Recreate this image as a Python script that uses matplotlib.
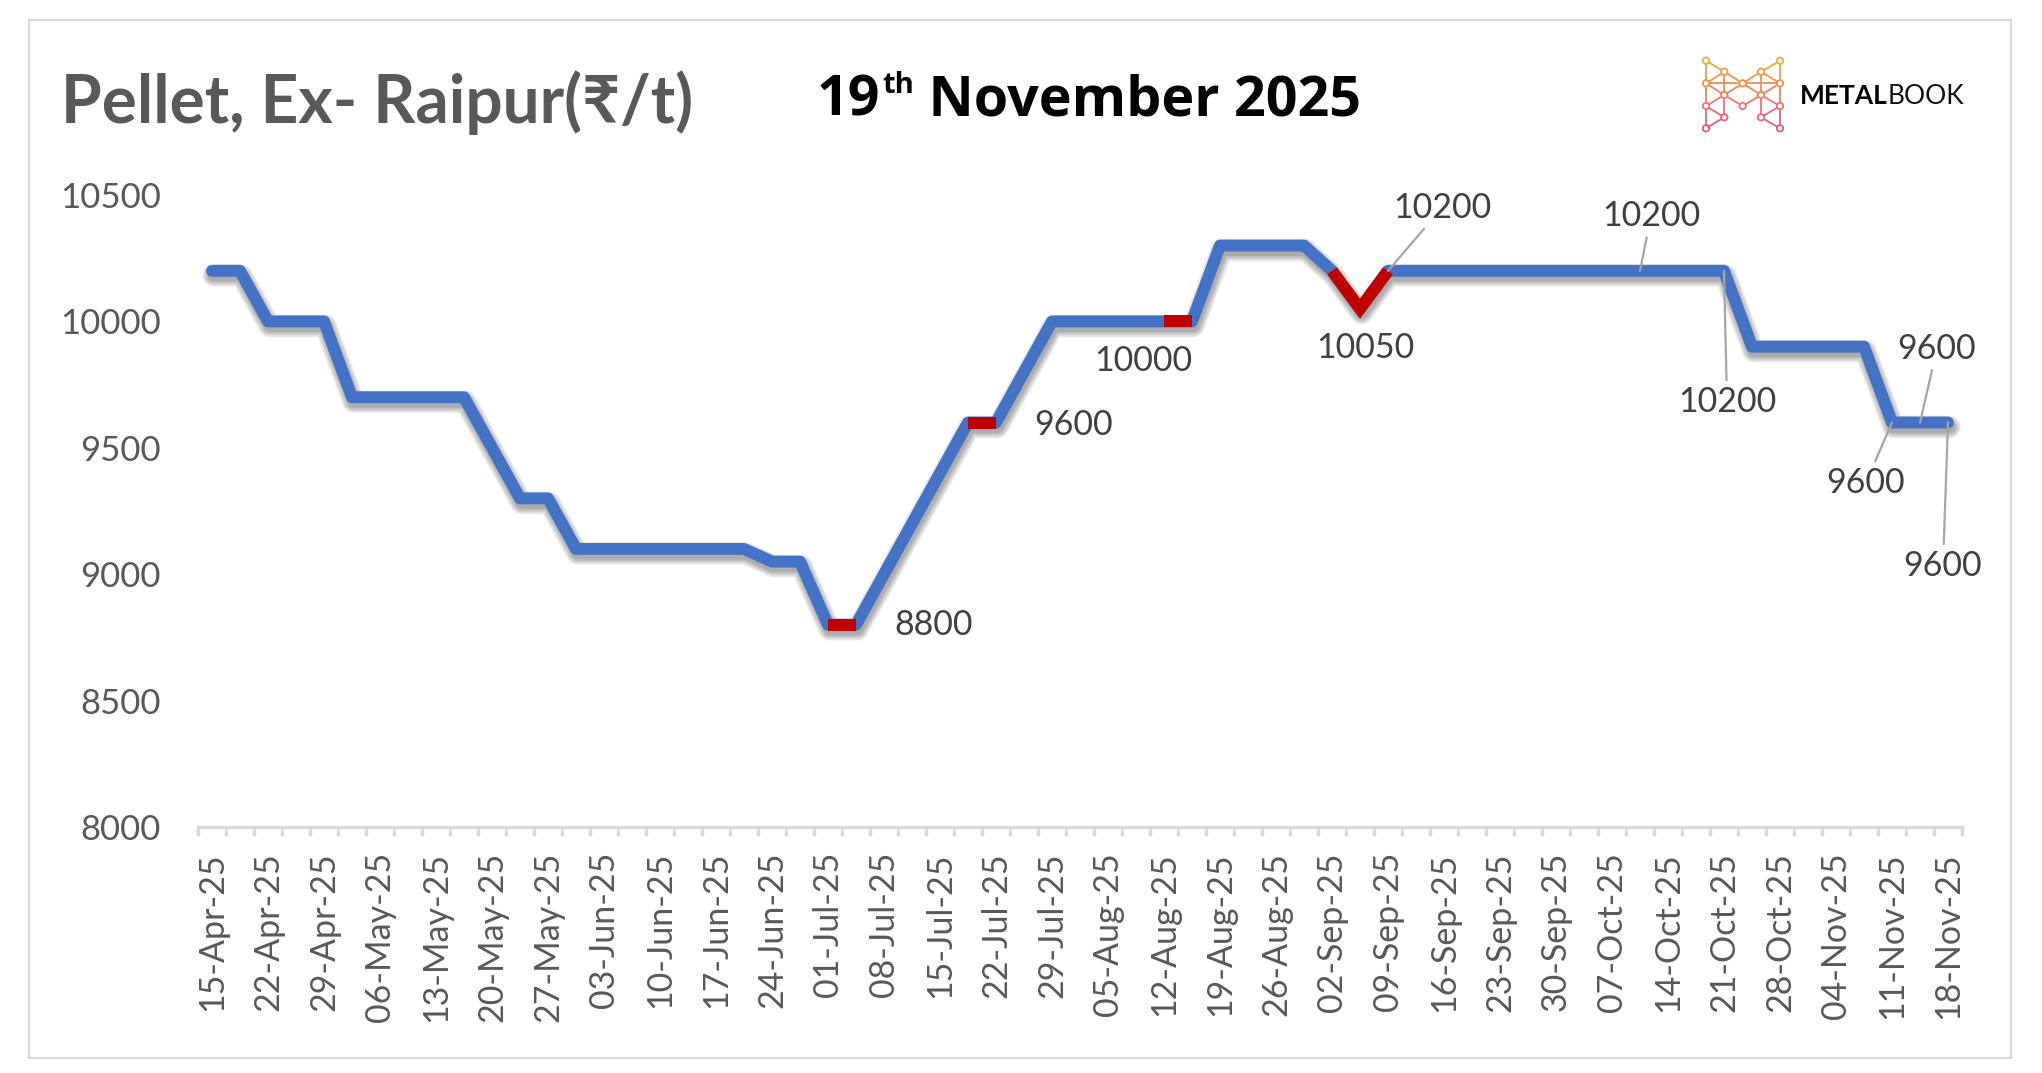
import matplotlib
matplotlib.use('Agg')
import matplotlib.pyplot as plt
import matplotlib.transforms as mtransforms
from matplotlib.patches import Rectangle, Circle
import numpy as np

# ---------------- data ----------------
date_labels = ['15-Apr-25', '22-Apr-25', '29-Apr-25', '06-May-25', '13-May-25', '20-May-25',
               '27-May-25', '03-Jun-25', '10-Jun-25', '17-Jun-25', '24-Jun-25', '01-Jul-25',
               '08-Jul-25', '15-Jul-25', '22-Jul-25', '29-Jul-25', '05-Aug-25', '12-Aug-25',
               '19-Aug-25', '26-Aug-25', '02-Sep-25', '09-Sep-25', '16-Sep-25', '23-Sep-25',
               '30-Sep-25', '07-Oct-25', '14-Oct-25', '21-Oct-25', '28-Oct-25', '04-Nov-25',
               '11-Nov-25', '18-Nov-25']

# half-weekly price points (Rs/t)
prices = [10200, 10200,
          10000, 10000, 10000,
          9700, 9700, 9700, 9700, 9700,
          9500,
          9300, 9300,
          9100, 9100, 9100, 9100, 9100, 9100, 9100,
          9050, 9050,
          8800, 8800,
          9000, 9200, 9400,
          9600, 9600,
          9800,
          10000, 10000, 10000, 10000, 10000, 10000,
          10300, 10300, 10300, 10300,
          10200,
          10050,
          10200, 10200, 10200, 10200, 10200, 10200, 10200, 10200, 10200, 10200, 10200, 10200, 10200,
          9900, 9900, 9900, 9900, 9900,
          9600, 9600, 9600]

# points whose incoming segment is highlighted in red
red_points = [23, 28, 35, 41, 42]
# points carrying a data label
label_points = [23, 28, 35, 41, 42, 51, 54, 60, 61, 62]
leader_points = [42, 51, 54, 60, 61, 62]

y_ticks = [8000, 8500, 9000, 9500, 10000, 10500]

title_text = 'Pellet, Ex- Raipur(\u20b9/t)'
date_day = '19'
date_sup = 'th'
date_rest = ' November 2025'

# ---------------- figure ----------------
W, H = 2042, 1073
fig = plt.figure(figsize=(W / 100, H / 100), dpi=100)
fig.patch.set_facecolor('white')

FONT = ['Lato', 'Noto Sans', 'DejaVu Sans']
GRAY = '#595959'

ax = fig.add_axes([198 / W, (H - 827) / H, 1764 / W, 632 / H])
x = np.arange(len(prices))
yv = np.array(prices, dtype=float)

LW = 8.6
BLUE = '#4472C4'
RED = '#C00000'

# soft shadow
for k in range(4):
    off = mtransforms.offset_copy(ax.transData, fig=fig, x=1.5, y=-4.5, units='dots')
    ax.plot(x, yv, color='black', alpha=0.09, lw=LW + 2.5 * k, transform=off,
            solid_capstyle='round', solid_joinstyle='round', zorder=1)

ax.plot(x, yv, color=BLUE, lw=LW, solid_capstyle='round', solid_joinstyle='round', zorder=3)

# red highlighted segments (group consecutive)
groups = []
for p in red_points:
    if groups and groups[-1][-1] == p - 1:
        groups[-1].append(p)
    else:
        groups.append([p])
for g in groups:
    idx = [g[0] - 1] + g
    ax.plot(x[idx], yv[idx], color=RED, lw=LW, solid_capstyle='butt',
            solid_joinstyle='miter', zorder=4)

ax.set_xlim(-0.5, len(prices) - 0.5)
ax.set_ylim(y_ticks[0], y_ticks[-1])
ax.set_yticks(y_ticks)
ax.set_yticklabels([str(t) for t in y_ticks], family=FONT)
ax.set_xticks(np.arange(0, len(prices), 2))
ax.set_xticklabels(date_labels, rotation=90, family=FONT)
ax.set_xticks(np.arange(-0.5, len(prices), 1), minor=True)

ax.tick_params(axis='x', which='major', length=0, pad=18, labelsize=24.5, labelcolor=GRAY)
ax.tick_params(axis='x', which='minor', length=6.5, width=2.4, color='#D9D9D9', direction='out')
ax.tick_params(axis='y', which='both', length=0, pad=27, labelsize=25, labelcolor=GRAY)
for s in ['top', 'right', 'left']:
    ax.spines[s].set_visible(False)
ax.spines['bottom'].set_color('#D9D9D9')
ax.spines['bottom'].set_linewidth(2.4)
ax.set_facecolor('none')

# data labels
offsets = {23: (78, 0), 28: (78, -2), 35: (-49, -40), 41: (5, -39), 42: (54, 63),
           51: (11, 55), 54: (3, -131), 60: (-26, -60), 61: (17, 74), 62: (-5, -143)}
for i in label_points:
    dx, dy = offsets[i]
    kw = {}
    if i in leader_points:
        kw['arrowprops'] = dict(arrowstyle='-', color='#A6A6A6', lw=1.6, shrinkA=2, shrinkB=0)
    ax.annotate(str(prices[i]), xy=(x[i], yv[i]), xytext=(dx, dy), textcoords='offset pixels',
                ha='center', va='center', fontsize=24.5, color='#404040', family=FONT,
                zorder=6, **kw)

# ---------------- titles ----------------
renderer = fig.canvas.get_renderer()

t1 = fig.text(61 / W, (H - 123) / H, title_text, fontsize=44, fontweight='bold', color=GRAY,
              family=FONT, ha='left', va='baseline')
w1 = t1.get_window_extent(renderer).width
t1.set_fontsize(44 * 632 / w1)

DFONT = ['Open Sans', 'DejaVu Sans']
# size the date headline so its overall width matches the reference
fs_main, fs_sup = 40.0, 21.0
for _ in range(2):
    probe = [fig.text(0, 0, s, fontsize=f, fontweight='bold', family=DFONT)
             for s, f in ((date_day, fs_main), (date_sup, fs_sup), (date_rest, fs_main))]
    total = sum(p.get_window_extent(renderer).width for p in probe) + 2
    for p in probe:
        p.remove()
    scale = 545 / total
    fs_main *= scale
    fs_sup *= scale

base_y = (H - 115) / H
d1 = fig.text(817 / W, base_y, date_day, fontsize=fs_main, fontweight='bold', color='black',
              family=DFONT, ha='left', va='baseline')
wd = d1.get_window_extent(renderer).width
d2 = fig.text((817 + wd + 2) / W, (H - 93) / H, date_sup, fontsize=fs_sup, fontweight='bold',
              color='black', family=DFONT, ha='left', va='baseline')
ws = d2.get_window_extent(renderer).width
d3 = fig.text((817 + wd + ws + 2) / W, base_y, date_rest, fontsize=fs_main, fontweight='bold',
              color='black', family=DFONT, ha='left', va='baseline')

# ---------------- logo ----------------
lax = fig.add_axes([1690 / W, (H - 140) / H, 100 / W, 90 / H])
lax.set_xlim(1690, 1790)
lax.set_ylim(140, 50)
lax.axis('off')
X = {'a': 1706, 'b': 1724.3, 'c': 1742.7, 'd': 1761, 'e': 1780}
Y = [60.7, 71.7, 83.3, 95, 106, 117.3, 128.3]
nodes = {
    'L0': (X['a'], Y[0]), 'L2': (X['a'], Y[2]), 'L4': (X['a'], Y[4]), 'L6': (X['a'], Y[6]),
    'R0': (X['e'], Y[0]), 'R2': (X['e'], Y[2]), 'R4': (X['e'], Y[4]), 'R6': (X['e'], Y[6]),
    'b1': (X['b'], Y[1]), 'd1': (X['d'], Y[1]), 'c2': (X['c'], Y[2]),
    'b3': (X['b'], Y[3]), 'd3': (X['d'], Y[3]), 'c4': (X['c'], Y[4]),
    'b5': (X['b'], Y[5]), 'd5': (X['d'], Y[5]),
}
edges = [('L0', 'L2'), ('L2', 'L4'), ('L4', 'L6'), ('R0', 'R2'), ('R2', 'R4'), ('R4', 'R6'),
         ('L0', 'b1'), ('b1', 'c2'), ('c2', 'd1'), ('d1', 'R0'),
         ('L2', 'b1'), ('R2', 'd1'), ('b1', 'b3'), ('d1', 'd3'),
         ('L2', 'b3'), ('b3', 'c2'), ('c2', 'd3'), ('d3', 'R2'), ('L2', 'c2'), ('c2', 'R2'),
         ('L4', 'b3'), ('R4', 'd3'), ('b3', 'c4'), ('c4', 'd3'),
         ('L4', 'b5'), ('R4', 'd5'), ('b5', 'L6'), ('d5', 'R6'), ('b3', 'b5'), ('d3', 'd5')]

def grad(yy):
    t = (yy - 60) / 70
    c0 = np.array([0.97, 0.68, 0.22])
    c1 = np.array([0.90, 0.33, 0.55])
    return tuple(c0 + (c1 - c0) * np.clip(t, 0, 1))

for a, b in edges:
    (xa, ya), (xb, yb) = nodes[a], nodes[b]
    lax.plot([xa, xb], [ya, yb], color=grad((ya + yb) / 2), lw=1.3, solid_capstyle='round')
for n, (xn, yn) in nodes.items():
    lax.add_patch(Circle((xn, yn), 3.2, facecolor='white', edgecolor=grad(yn), lw=1.3, zorder=3))

m1 = fig.text(1800 / W, (H - 104) / H, 'METAL', fontsize=19, fontweight='bold', color='black',
              family=FONT, ha='left', va='baseline')
wm = m1.get_window_extent(renderer).width
m2 = fig.text((1800 + wm) / W, (H - 104) / H, 'BOOK', fontsize=19, fontweight='normal',
              color='#111111', family=FONT, ha='left', va='baseline')

# border
fig.patches.append(Rectangle((29 / W, (H - 1058) / H), (2011 - 29) / W, (1058 - 20) / H,
                             transform=fig.transFigure, fill=False, edgecolor='#D9D9D9', lw=1.5))

fig.savefig('out.png', dpi=100)
